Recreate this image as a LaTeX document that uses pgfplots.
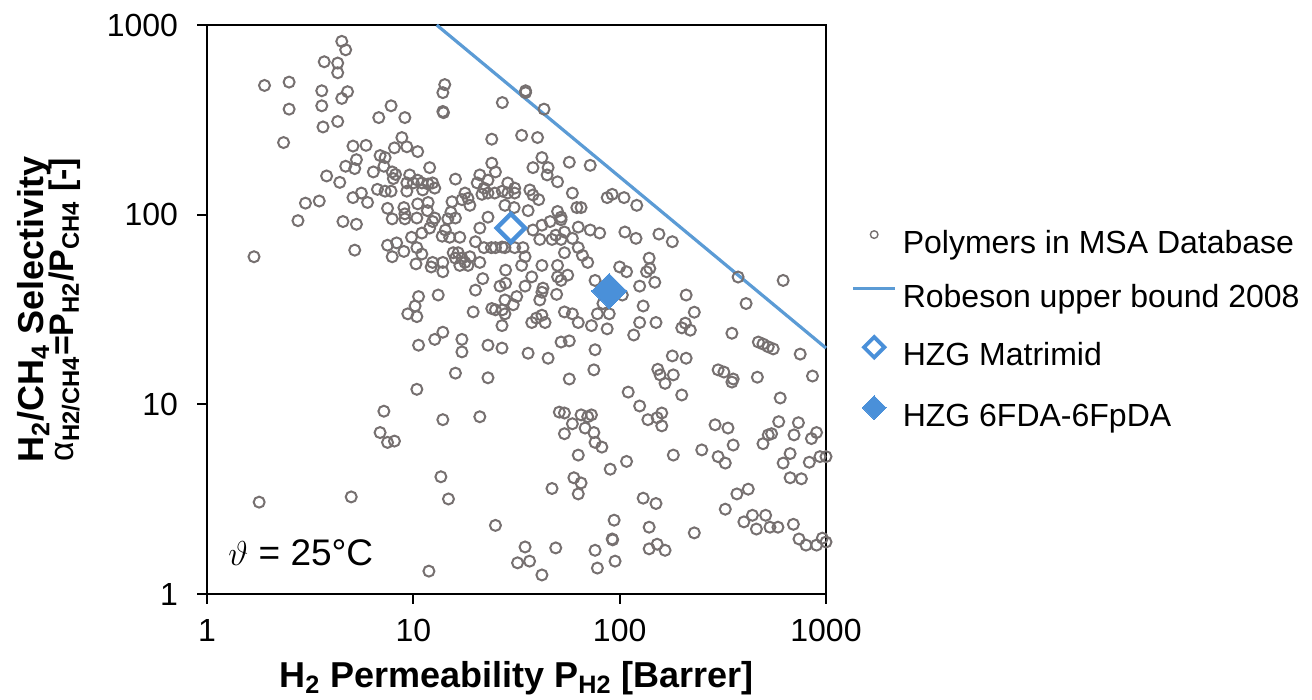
\documentclass[border=0pt]{standalone}
\usepackage{fontspec}
\setmainfont{Liberation Sans}
\usepackage{pgfplots}
\usepackage{pgfplotstable}
\pgfplotsset{compat=1.18}
\definecolor{ptgray}{RGB}{118,112,112}
\definecolor{robblue}{RGB}{91,155,213}
\definecolor{hzgblue}{RGB}{74,144,217}
\pgfplotsset{
  legcirc/.style={legend image code/.code={\draw[##1, mark size=1.9pt, mark options={line width=0.7pt}] plot coordinates {(10.5pt,5pt)};}},
  legline/.style={legend image code/.code={\draw[##1] (0pt,5pt) -- (21pt,5pt);}},
  legopen/.style={legend image code/.code={\draw[##1, mark size=3.6pt, mark options={rotate=45,line width=1.9pt, fill=white}] plot coordinates {(10.5pt,5pt)};}},
  legfill/.style={legend image code/.code={\draw[##1, mark size=4.2pt] plot coordinates {(10.5pt,5pt)};}},
}

\pgfplotstableread{
x y
4.5 820
4.7 740
3.7 640
4.3 630
4.3 560
1.9 480
2.5 500
3.6 450
4.8 445
4.5 410
2.5 360
3.6 375
4.3 310
3.65 290
2.35 240
7.8 375
6.8 325
9.1 325
8.8 255
8.1 225
9.3 228
10.5 215
5.1 230
5.9 232
6.9 205
7.3 200
5.3 195
4.7 180
5.2 175
7.2 180
6.4 168
7.9 168
8.2 163
8.0 155
9.6 162
9.3 147
10 147
10.5 152
3.8 160
4.4 148
6.7 136
7.3 133
7.8 133
9.3 133
5.1 123
5.6 130
6.0 116
3.0 115
3.5 118
7.5 108
9.0 109
9.1 101
10.5 114
2.76 93
4.56 92
5.3 89
5.2 65
1.69 60
7.9 95
9.1 95
10.4 96
7.5 69
8.3 71
9.0 64
7.9 60
9.8 76
10.4 67
10.3 55
10.6 37
10.2 33
9.4 30
10.4 29
10.6 20.5
10.4 12
7.2 9.2
6.9 7.1
7.5 6.3
8.1 6.4
1.79 3.05
5.0 3.25
14.2 485
13.9 440
13.9 350
14.0 345
27 390
35 450
35 440
43 360
24 250
33.5 262
40 255
42 200
38 177
45 177
44.5 162
50 149
57 189
72 182
12 177
24 187
25 168
21 162
23 152
16 154
11 147
11.8 145
12.4 147
12.7 138
11.1 135
20.4 147
22 138
21.5 128
23 130
24.8 130
28.7 147
27 133
31 138
31 130
28.7 130
36.7 135
38 127
40.5 120
17.8 130
18.4 122
17.2 120
18.8 112
15.4 117
15.2 103
11.8 116
11.7 105
27.8 112
30.8 109
36 105
23 97
50 104
52 97
59 130
62 109
65 109
87 123
92 128
105 123
121 112
12.7 96
14.7 95
12.4 92
12 85
11 80
16 96
14.3 83
13.8 77
15 76
16.8 76
21 85
20 72
11 62
12.4 56
12.2 53
13.9 56
13.9 50
16.5 63
17.2 59
17.8 56
16.8 54
18.4 54
18.8 60
21 56
22 67
23.9 67
25 67
26.9 67.5
27.8 67
31 67
34 67
34.8 60
33.5 54
28 51
21.7 46
20 40
26.3 42
28 43.5
34.8 42
37.5 47
42.5 41
42 39
41 35.5
31.7 37
27.8 35.5
30.5 33.5
27 31.5
25 31.5
24 32
27.8 30
26.9 26
19.5 30.7
13.2 37.7
37.5 27
39.5 28.5
42 29.5
43.5 27
42 54
50 54
50 47
52 45
56 48
54 63
59 75
63 67
66 61
70 56
49.5 38
54 30.7
59 30
63 27
73 26
78 30
89 30
87 25
76 45
83 34
103 37.7
100 53
108 50
106 81
72 83
80 80
63 86
52 94
54 81
49 78
46 92
42 88
38 83
41 74
47 74
52 74
15.6 63
16 59
12.7 22
13.9 24
17.2 22
17.2 18.9
23 20.5
26.9 19.8
36 18.6
45 17.5
52 21.3
57 21.6
76 19.4
75 15.2
57 13.6
16 14.6
23 13.8
110 11.6
13.9 8.3
21 8.6
51 9.1
54 9.0
65 8.8
70 8.6
73 8.8
59 7.9
54 7.0
68 7.5
75 7.1
76 6.3
82 5.95
63 5.4
90 4.55
108 5.0
13.6 4.15
14.8 3.17
47 3.6
60 4.1
65 3.85
63 3.37
25 2.3
94 2.45
92 1.95
92.5 1.93
34.8 1.77
49 1.75
32 1.46
36.6 1.49
42 1.26
76 1.7
95 1.49
78 1.37
11.9 1.32
120 75
155 79
180 72
139 59
140 52
135 50
148 44
125 42
210 37.7
130 33
230 30.6
125 27
150 27
208 26.8
200 25.3
220 24.6
117 23.2
375 46.9
620 45
410 34
350 23.7
470 21.3
495 20.8
525 20.1
555 19.6
750 18.4
180 18.0
210 17.5
153 15.3
157 14.3
182 14.3
166 12.9
300 15.2
320 14.8
355 13.6
350 13.1
465 13.9
860 14.1
600 10.8
200 11.2
125 9.8
160 9.0
137 8.3
152 8.5
160 7.7
290 7.8
335 7.5
355 6.1
300 5.3
325 4.9
250 5.75
182 5.4
495 6.2
525 6.9
545 7.0
590 8.1
735 8.0
700 6.9
850 6.6
900 7.1
670 5.5
620 4.9
830 4.95
935 5.3
1000 5.3
670 4.1
760 4.05
130 3.2
150 3.0
325 2.8
370 3.37
420 3.57
400 2.4
440 2.6
460 2.2
510 2.6
535 2.25
585 2.25
695 2.33
139 2.25
230 2.1
740 1.95
800 1.81
900 1.81
960 1.97
1000 1.88
139 1.73
152 1.83
166 1.7
}\msadata

\pgfplotstableread{
x y
12.98 1000
1000 19.8
}\robeson

\pgfplotstableread{
x y
29.7 85
}\matrimid

\pgfplotstableread{
x y
88.9 39.6
}\sixfda

\begin{document}
\begin{tikzpicture}
\useasboundingbox (0,0) rectangle (656pt,350pt);
\begin{axis}[
  at={(103.5pt,53pt)}, anchor=south west,
  scale only axis, width=309.5pt, height=284.5pt,
  xmode=log, ymode=log,
  xmin=1, xmax=1000, ymin=1, ymax=1000,
  xtick={1,10,100,1000}, xticklabels={1,10,100,1000},
  ytick={1,10,100,1000}, yticklabels={1,10,100,1000},
  minor tick num=0,
  every minor tick/.style={draw=none},
  tick align=outside, tick pos=left,
  major tick length=5pt,
  every tick/.style={black, line width=1pt},
  axis line style={line width=1.3pt, black},
  ticklabel style={font=\fontsize{16}{19}\selectfont},
  xticklabel style={yshift=-4pt},
  yticklabel style={xshift=-6pt},
  clip=false,
  xlabel={\bfseries H\textsubscript{2} Permeability P\textsubscript{H2} [Barrer]},
  xlabel style={font=\fontsize{18}{21}\selectfont, at={(axis description cs:0.5,-0.165)}, anchor=base},
  ylabel={\fontsize{18}{21}\selectfont\bfseries H\textsubscript{2}/CH\textsubscript{4} Selectivity\\[-2pt]\fontsize{17}{20}\selectfont{\mdseries α}\bfseries\textsubscript{H2/CH4}=P\textsubscript{H2}/P\textsubscript{CH4} [-]},
  ylabel style={align=center, at={(axis description cs:-0.255,0.5)}, anchor=center},
  legend style={draw=none, fill=none, at={(axis description cs:1.031,0.462)}, anchor=west,
    font=\fontsize{16}{19}\selectfont,
    nodes={inner xsep=3pt, inner ysep=0pt, text height=12pt, text depth=3.5pt},
    row sep=11.5pt},
  legend cell align=left,
]
\addplot[only marks, mark=o, mark size=2.75pt, color=ptgray, mark options={line width=1pt}, legcirc]
  table {\msadata};
\addlegendentry{Polymers in MSA Database}
\addplot[robblue, line width=1.6pt, no marks, legline]
  table {\robeson};
\addlegendentry{Robeson upper bound 2008}
\addplot[only marks, mark=square, mark size=5pt, color=hzgblue, mark options={rotate=45, line width=2.2pt, fill=white}, legopen]
  table {\matrimid};
\addlegendentry{HZG Matrimid}
\addplot[only marks, mark=square*, mark size=6.2pt, color=hzgblue, mark options={rotate=45, line width=0pt}, legfill]
  table {\sixfda};
\addlegendentry{HZG 6FDA-6FpDA}
\node[anchor=base west, font=\fontsize{18.5}{22}\selectfont, inner sep=0pt] at (axis description cs:0.034,0.05) {$\vartheta$ = 25°C};
\end{axis}
\end{tikzpicture}
\end{document}
